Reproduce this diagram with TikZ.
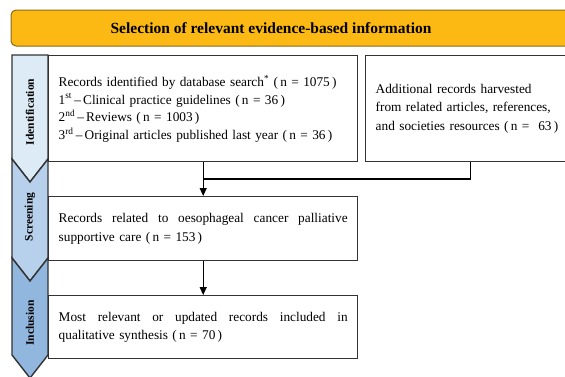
\documentclass[tikz,border=0pt]{standalone}
\usepackage{fontspec}
\setmainfont{Liberation Serif}
\usetikzlibrary{arrows.meta}
\definecolor{bannerfill}{HTML}{FDB913}
\definecolor{bannerline}{HTML}{8A6A1A}
\definecolor{idfill}{HTML}{DDEBF7}
\definecolor{scfill}{HTML}{B7D1EC}
\definecolor{infill}{HTML}{91B7DF}
\definecolor{edge}{HTML}{333333}
\newcommand{\justline}[1]{\makebox[\linewidth][s]{\spaceskip=.3em plus 1fil\relax #1}}
\begin{document}
\begin{tikzpicture}[x=1pt,y=-1pt,
  box/.style={draw=edge, line width=1.4pt, rectangle, anchor=north west, inner xsep=10pt, align=left,
    font=\fontsize{13.3}{17.7}\selectfont},
  strip/.style={draw=edge, line width=1.4pt, line join=miter},
  vlabel/.style={rotate=90, font=\fontsize{11.5}{14}\selectfont\bfseries},
  conn/.style={draw=black, line width=1.2pt},
  tip/.style={-{Triangle[width=7pt,length=8pt]}}]
\useasboundingbox (0,0) rectangle (565,376);
\clip (0,0) rectangle (565,376);
% banner
\draw[draw=bannerline, fill=bannerfill, line width=1pt, rounded corners=5pt] (11,10) rectangle (640,46);
\node[font=\fontsize{15.5}{18}\selectfont\bfseries] (title) at (271,28.5) {Selection of relevant evidence-based information};
% strips
\draw[strip, fill=idfill] (12,55) -- (48,55) -- (48,159) -- (30,182) -- (12,159) -- cycle;
\draw[strip, fill=scfill] (12,159) -- (30,182) -- (48,159) -- (48,258) -- (30,281) -- (12,258) -- cycle;
\draw[strip, fill=infill] (12,258) -- (30,281) -- (48,258) -- (48,355) -- (30,378) -- (12,355) -- cycle;
\node[vlabel] (lid) at (30,112) {Identification};
\node[vlabel] (lsc) at (30,217) {Screening};
\node[vlabel] (lin) at (30,323) {Inclusion};
% boxes
\node[box, minimum width=309pt, minimum height=106pt, text width=289pt] (ident) at (48,55)
  {Records identified by database search\textsuperscript{*} (\,n = 1075\,)\\
   1\textsuperscript{st}\,--\,Clinical practice guidelines (\,n = 36\,)\\
   2\textsuperscript{nd}\,--\,Reviews (\,n = 1003\,)\\
   3\textsuperscript{rd}\,--\,Original articles published last year (\,n = 36\,)};
\node[box, minimum width=210pt, minimum height=106pt, text width=190pt, font=\fontsize{13.3}{18.5}\selectfont] (extra) at (365,55)
  {Additional records harvested\\
   from related articles, references,\\
   and societies resources (\,n =~~63\,)};
\node[box, minimum width=309pt, minimum height=64pt, text width=289pt, font=\fontsize{13.3}{19.5}\selectfont] (screen) at (48,196)
  {\justline{Records related to oesophageal cancer palliative}\\
   supportive care (\,n = 153\,)};
\node[box, minimum width=309pt, minimum height=63pt, text width=289pt, font=\fontsize{13.3}{18.5}\selectfont] (incl) at (48,295)
  {\justline{Most relevant or updated records included in}\\
   qualitative synthesis (\,n = 70\,)};
% connectors
\coordinate (join) at (202.5,179);
\draw[conn] (extra.south) |- (join);
\draw[conn, tip] (ident.south) -- (screen.north);
\draw[conn, tip] (screen.south) -- (incl.north);
\end{tikzpicture}
\end{document}
